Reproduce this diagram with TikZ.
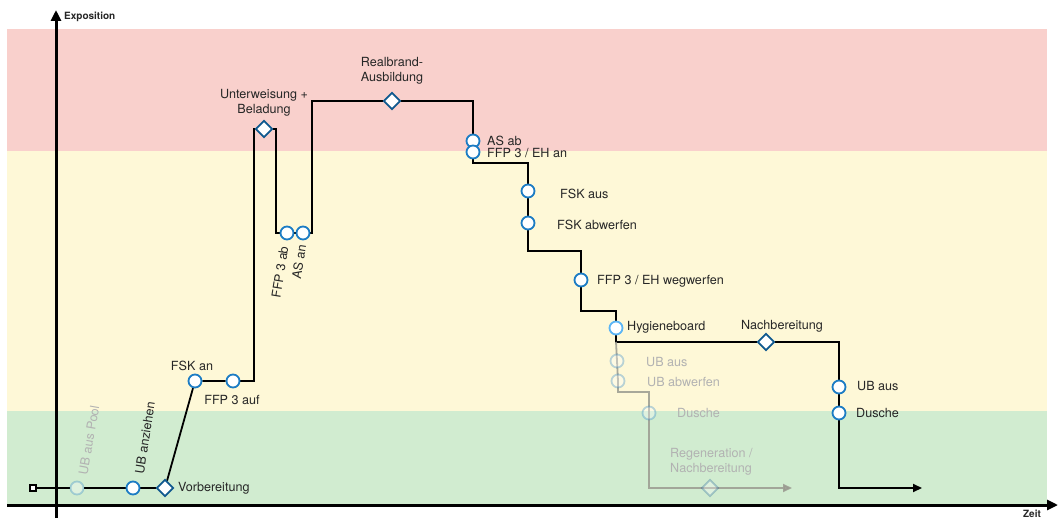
\documentclass[tikz,border=0pt]{standalone}
\usepackage{fontspec}
\setmainfont{TeX Gyre Heros}
\usetikzlibrary{shapes.geometric,arrows.meta}
\definecolor{bandred}{HTML}{F9D0CC}
\definecolor{bandyel}{HTML}{FEF8D7}
\definecolor{bandgrn}{HTML}{D1ECD0}
\definecolor{evblue}{HTML}{1C7CC4}
\definecolor{dcblue}{HTML}{10598F}
\definecolor{hygblue}{HTML}{5BB5F5}
\definecolor{fadeline}{HTML}{9A9A90}
\pgfdeclarelayer{bands}
\pgfdeclarelayer{links}
\pgfsetlayers{bands,links,main}
\tikzset{
  every node/.style={font=\fontsize{12.6}{14.5}\selectfont, text=black!85},
  evt/.style={circle, draw=evblue, fill=white, line width=1.8pt, minimum size=13pt, inner sep=0pt},
  hygevt/.style={evt, draw=hygblue},
  fadeevt/.style={evt, draw=evblue, opacity=0.3},
  decision/.style={diamond, draw=dcblue, fill=white, line width=1.8pt, minimum width=17pt, minimum height=17pt, inner sep=0pt},
  fadedec/.style={decision, opacity=0.3},
  flow/.style={draw=black, line width=1.8pt},
  fadeflow/.style={draw=fadeline, line width=1.8pt, opacity=0.85},
  axis/.style={draw=black, line width=3pt, -{Triangle[length=11pt,width=10pt]}},
  lbl/.style={inner sep=1pt},
  fadelbl/.style={inner sep=1pt, text=black!30},
  axlbl/.style={inner sep=0pt, font=\fontsize{10}{12}\selectfont\bfseries}
}
\begin{document}
\begin{tikzpicture}[x=1pt,y=-1pt]
\useasboundingbox (0,0) rectangle (1059,521);

% exposure bands
\begin{pgfonlayer}{bands}
  \fill[bandred] (7,29) rectangle (1047,151);
  \fill[bandyel] (7,151) rectangle (1047,411);
  \fill[bandgrn] (7,411) rectangle (1047,505);
\end{pgfonlayer}

% axes
\coordinate (ybot) at (56,518);
\coordinate (ytop) at (56,10);
\coordinate (xleft) at (7,505);
\coordinate (xright) at (1058,505);
\draw[axis] (ybot) -- (ytop);
\draw[axis] (xleft) -- (xright);
\node[axlbl, anchor=west] (expo) at (64,17) {Exposition};
\node[axlbl, anchor=north] (zeit) at (1032,510) {Zeit};

% events and decisions
\node[draw=black, fill=white, line width=1.5pt, minimum size=6pt, inner sep=0pt] (start) at (33,488) {};
\node[fadeevt] (pool) at (77,488) {};
\node[evt] (anz) at (133,488) {};
\node[decision] (vorb) at (165,488) {};
\node[evt] (fskan) at (195,381) {};
\node[evt] (ffpauf) at (233,381) {};
\node[decision] (unterw) at (264,129) {};
\node[evt] (ffpab) at (287,233) {};
\node[evt] (asan) at (303,233) {};
\node[decision] (realb) at (392,101) {};
\node[evt] (asab) at (473,141) {};
\node[evt] (ffpeh) at (473,152) {};
\node[evt] (fskaus) at (528,191) {};
\node[evt] (fskab) at (528,223) {};
\node[evt] (ffpweg) at (581,280) {};
\node[hygevt] (hyg) at (616,328) {};
\node[decision] (nachb) at (766,342) {};
\node[evt] (ubaus) at (839,387) {};
\node[evt] (dusche) at (839,413) {};
\node[fadeevt] (gubaus) at (617,361) {};
\node[fadeevt] (gubab) at (618,381) {};
\node[fadeevt] (gdusche) at (649,413) {};
\node[fadedec] (gregen) at (710,488) {};

% corners and free ends
\coordinate (k1) at (254,129);
\coordinate (k2) at (276,233);
\coordinate (k3) at (312,101);
\coordinate (k4) at (528,163);
\coordinate (k5) at (581,251);
\coordinate (k6) at (616,311);
\coordinate (k7) at (616,342);
\coordinate (k8) at (649,392);
\coordinate (zend) at (922,488);
\coordinate (gend) at (792,488);

% main exposure path
\begin{pgfonlayer}{links}
  \draw[flow] (start) -- (pool) -- (anz) -- (vorb);
  \draw[flow] (vorb) -- (fskan) -- (ffpauf);
  \draw[flow] (ffpauf) -| (k1) -- (unterw);
  \draw[flow] (unterw) -| (k2) -- (ffpab) -- (asan);
  \draw[flow] (asan) -| (k3) -- (realb);
  \draw[flow] (realb) -| (asab) -- (ffpeh);
  \draw[flow] (ffpeh) |- (k4) -- (fskaus) -- (fskab);
  \draw[flow] (fskab) |- (k5) -- (ffpweg);
  \draw[flow] (ffpweg) |- (k6) -- (hyg);
  \draw[flow] (hyg) |- (nachb);
  \draw[flow] (nachb) -| (ubaus) -- (dusche);
  \draw[flow, -{Triangle[length=9pt,width=8pt]}] (dusche) |- (zend);
  % faded alternative branch
  \draw[fadeflow, -{Triangle[length=9pt,width=8pt]}] (k7) -- (gubaus.center) -- (gubab.center) |- (k8) -- (gdusche.center) |- (gregen.center) -- (gend);
\end{pgfonlayer}

% labels
\node[fadelbl, rotate=80] (lpool) at (89,440) {UB aus Pool};
\node[lbl, rotate=81] (lanz) at (145,438) {UB anziehen};
\node[lbl, anchor=west] (lvorb) at (177,488) {Vorbereitung};
\node[lbl] (lfskan) at (192,366) {FSK an};
\node[lbl] (lffpauf) at (232,400) {FFP 3 auf};
\node[lbl, align=center] (lunterw) at (264,103) {Unterweisung +\\Beladung};
\node[lbl, rotate=81] (lffpab) at (280,272) {FFP 3 ab};
\node[lbl, rotate=81] (lasan) at (299,262) {AS an};
\node[lbl, align=center] (lrealb) at (392,71) {Realbrand-\\Ausbildung};
\node[lbl, anchor=west] (lasab) at (486,141) {AS ab};
\node[lbl, anchor=west] (lffpeh) at (486,153) {FFP 3 / EH an};
\node[lbl, anchor=west] (lfskaus) at (559,194) {FSK aus};
\node[lbl, anchor=west] (lfskab) at (556,225) {FSK abwerfen};
\node[lbl, anchor=west] (lffpweg) at (596,281) {FFP 3 / EH wegwerfen};
\node[lbl, anchor=west] (lhyg) at (626,327) {Hygieneboard};
\node[lbl] (lnachb) at (782,326) {Nachbereitung};
\node[lbl, anchor=west] (lubaus) at (856,386) {UB aus};
\node[lbl, anchor=west] (ldusche) at (855,413) {Dusche};
\node[fadelbl, anchor=west] (lgubaus) at (645,362) {UB aus};
\node[fadelbl, anchor=west] (lgubab) at (646,382) {UB abwerfen};
\node[fadelbl, anchor=west] (lgdusche) at (676,413) {Dusche};
\node[fadelbl, anchor=west, align=left] (lgregen) at (669,462) {Regeneration /\\Nachbereitung};
\end{tikzpicture}
\end{document}
